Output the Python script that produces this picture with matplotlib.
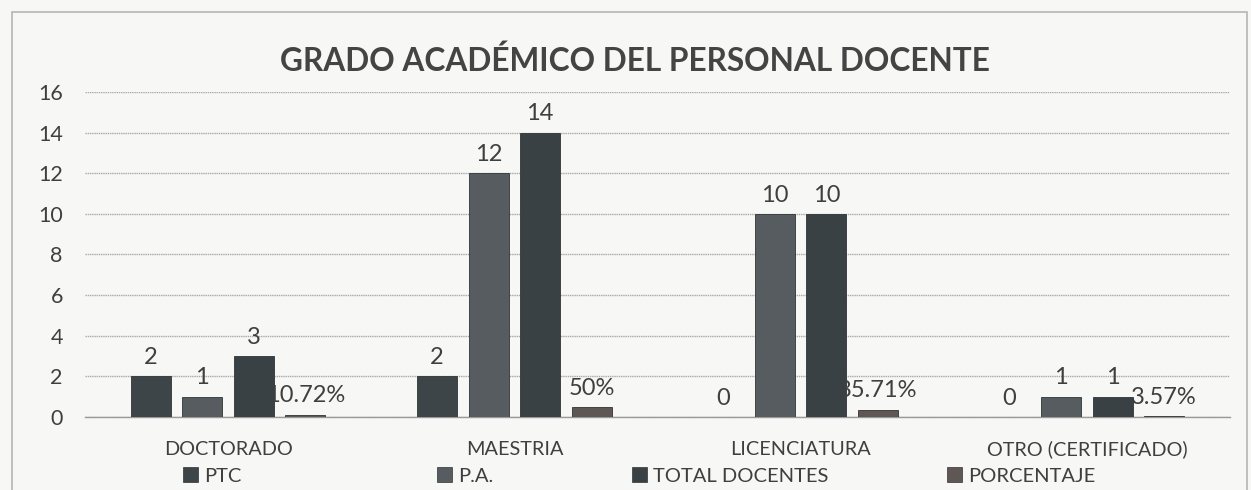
import matplotlib
matplotlib.use("Agg")
import matplotlib.pyplot as plt
from matplotlib.patches import Rectangle, Patch
import numpy as np

plt.rcParams['font.family'] = ['Lato', 'DejaVu Sans']

categories = ["DOCTORADO", "MAESTRIA", "LICENCIATURA", "OTRO (CERTIFICADO)"]
series_names = ["PTC", "P.A.", "TOTAL DOCENTES", "PORCENTAJE"]
ptc = [2, 2, 0, 0]
pa = [1, 12, 10, 1]
total = [3, 14, 10, 1]
porcentaje = [0.1072, 0.50, 0.3571, 0.0357]
porcentaje_labels = ["10.72%", "50%", "35.71%", "3.57%"]
yticks = [0, 2, 4, 6, 8, 10, 12, 14, 16]

colors = ["#3e4548", "#565c5f", "#3a4145", "#5e5753"]
text_color = "#3f3f3f"

W, H = 1251, 490
fig = plt.figure(figsize=(W / 100, H / 100), dpi=100)
fig.patch.set_facecolor("#f7f7f5")

# chart frame
fig.add_artist(Rectangle((12 / W, -0.05), (1247 - 12) / W, (H - 12) / H + 0.05,
                         transform=fig.transFigure, fill=False,
                         edgecolor="#b5b5b5", linewidth=1.2))

ax = fig.add_axes([85 / W, 1 - 417 / H, (1230 - 85) / W, (417 - 92) / H])
ax.set_facecolor("none")

x = np.arange(len(categories))
step = 0.18
width = 0.14
series = [ptc, pa, total, porcentaje]
for i, (vals, col) in enumerate(zip(series, colors)):
    offs = (i - 1.5) * step
    ax.bar(x + offs, vals, width=width, color=col, edgecolor="#2f3436",
           linewidth=0.6, zorder=3)
    labels = [str(v) for v in vals] if i < 3 else porcentaje_labels
    for xb, v, lab in zip(x + offs, vals, labels):
        ax.annotate(lab, (xb, v), xytext=(0, 6), textcoords="offset points",
                    ha="center", va="bottom", fontsize=17, color=text_color,
                    zorder=4)

ax.set_xlim(-0.5, len(categories) - 0.5)
ax.set_ylim(0, 16)
ax.set_yticks(yticks)
ax.set_xticks(x)
ax.set_xticklabels(categories)
ax.tick_params(axis="x", length=0, pad=17, labelsize=14.3, colors=text_color)
ax.tick_params(axis="y", length=0, pad=16, labelsize=15.5, colors=text_color)
ax.grid(axis="y", color="#a8a8a8", linewidth=1.0, linestyle=(0, (1, 0.6)), zorder=0)
for s in ["top", "right", "left"]:
    ax.spines[s].set_visible(False)
ax.spines["bottom"].set_color("#9a9a9a")
ax.spines["bottom"].set_linewidth(1.0)

fig.text(635 / W, 1 - 61 / H, "GRADO ACADÉMICO DEL PERSONAL DOCENTE",
         ha="center", va="center", fontsize=22.8, fontweight="bold",
         color="#444444")

legend_x = [183, 437, 632, 947]
for name, col, lx in zip(series_names, colors, legend_x):
    fig.legend(handles=[Patch(facecolor=col, edgecolor="#2f3436", linewidth=0.5)],
               labels=[name], loc="center left",
               bbox_to_anchor=(lx / W, 1 - 476 / H), frameon=False,
               fontsize=14.5, handlelength=0.75, handleheight=0.75,
               handletextpad=0.3, borderpad=0, borderaxespad=0,
               labelcolor=text_color)

fig.savefig("out.png", dpi=100, facecolor=fig.get_facecolor())
